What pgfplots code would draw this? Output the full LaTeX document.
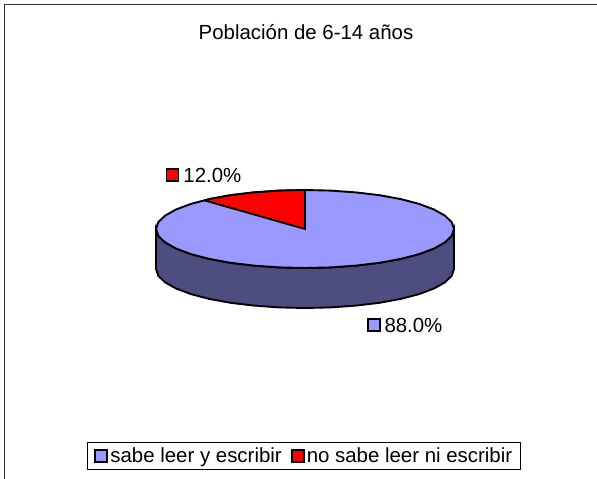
\documentclass[border=0pt]{standalone}
\usepackage{fontspec}
\setmainfont{Liberation Sans}
\usepackage{pgfplots}
\pgfplotsset{compat=1.18}
\definecolor{pieblue}{HTML}{9999FF}
\definecolor{pieside}{HTML}{4D4D80}
\definecolor{piered}{HTML}{FF0000}
\begin{document}
\begin{tikzpicture}
\begin{axis}[
  scale only axis,width=597bp,height=479bp,
  xmin=0,xmax=597,ymin=0,ymax=479,y dir=reverse,
  axis lines=none,clip=false,
  legend columns=2,
  legend cell align=left,
  legend style={at={(87.5/597,1-442/479)},anchor=north west,draw=black,line width=0.8pt,
    font=\fontsize{20.5}{23}\selectfont,inner xsep=6.5bp,inner ysep=3.5bp,
    /tikz/every even column/.append style={column sep=7bp}},
  legend image code/.code={\draw[#1,draw=black,line width=2pt] (0bp,-6bp) rectangle (12bp,6bp);},
]
\coordinate (ll) at (axis cs:0,479);
\coordinate (ur) at (axis cs:597,0);
% chart frame, left and top only
\addplot[forget plot,black!80,line width=1pt] coordinates {(4.5,479) (4.5,5) (597,5)};
% side wall of the disc
\addplot[forget plot,fill=pieside,draw=black,line width=1.9pt] coordinates {
 (454,229) (451.7,235.8) (445,242.3) (434,248.5) (419.1,254.1) (400.8,258.9) (379.5,262.8) (356,265.6) (330.9,267.4) (305,268)
 (279.1,267.4) (254,265.6) (230.5,262.8) (209.2,258.9) (190.9,254.1) (176,248.5) (165,242.3) (158.3,235.8) (156,229)
 (156,269) (158.3,275.8) (165,282.3) (176,288.5) (190.9,294.1) (209.2,298.9) (230.5,302.8) (254,305.6) (279.1,307.4) (305,308)
 (330.9,307.4) (356,305.6) (379.5,302.8) (400.8,298.9) (419.1,294.1) (434,288.5) (445,282.3) (451.7,275.8) (454,269) (454,229)} -- cycle;
% top face, 88 % slice
\addplot[fill=pieblue,draw=black,line width=1.9pt] coordinates {
 (454,229) (451.7,235.8) (445,242.3) (434,248.5) (419.1,254.1) (400.8,258.9) (379.5,262.8) (356,265.6) (330.9,267.4) (305,268)
 (279.1,267.4) (254,265.6) (230.5,262.8) (209.2,258.9) (190.9,254.1) (176,248.5) (165,242.3) (158.3,235.8) (156,229)
 (158.3,222.2) (165,215.7) (176,209.5) (190.9,203.9) (209.2,199.1) (230.5,195.2) (254,192.4) (279.1,190.6) (305,190)
 (330.9,190.6) (356,192.4) (379.5,195.2) (400.8,199.1) (419.1,203.9) (434,209.5) (445,215.7) (451.7,222.2)} -- cycle;
\addlegendentry{sabe leer y escribir}
% 12 % slice
\addplot[fill=piered,draw=black,line width=1.9pt] coordinates {
 (305,229) (205,200.5) (209.2,199.1) (230.5,195.2) (254,192.4) (279.1,190.6) (305,190)} -- cycle;
\addlegendentry{no sabe leer ni escribir\hspace{3bp}}
% data labels with their keys
\addplot[forget plot,only marks,mark=square*,mark size=6bp,
  mark options={fill=piered,draw=black,line width=2pt},
  point meta=explicit symbolic,
  nodes near coords,
  nodes near coords style={anchor=west,font=\fontsize{20.5}{23}\selectfont,xshift=10bp,inner sep=0pt}]
  coordinates {(172.5,175) [12.0\%]};
\addplot[forget plot,only marks,mark=square*,mark size=6bp,
  mark options={fill=pieblue,draw=black,line width=2pt},
  point meta=explicit symbolic,
  nodes near coords,
  nodes near coords style={anchor=west,font=\fontsize{20.5}{23}\selectfont,xshift=10bp,inner sep=0pt}]
  coordinates {(373.5,325) [88.0\%]};
\node[font=\fontsize{20.5}{23}\selectfont] at (axis cs:306,32) {Población de 6-14 años};
\end{axis}
\pgfresetboundingbox
\useasboundingbox (ll) rectangle (ur);
\end{tikzpicture}
\end{document}
